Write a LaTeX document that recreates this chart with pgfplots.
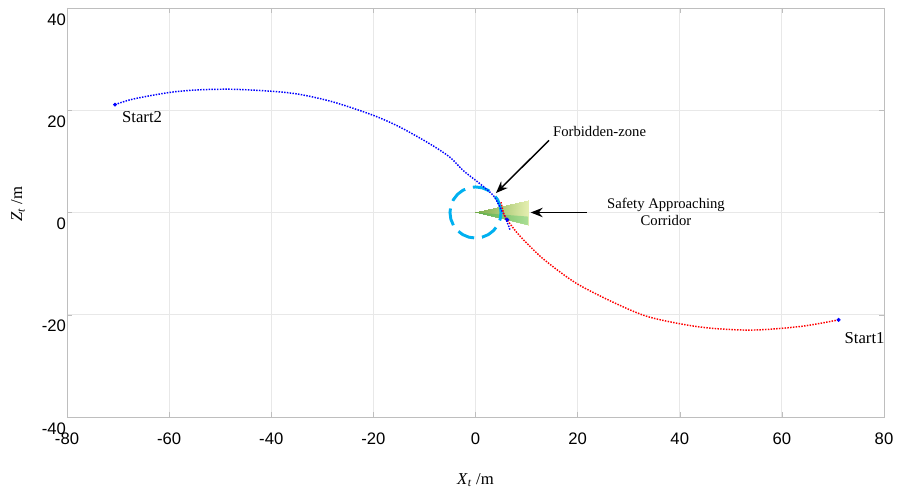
\documentclass[border=0pt]{standalone}
\usepackage{fontspec}
\setmainfont{Liberation Serif}
\newfontfamily\arial{Liberation Sans}
\usepackage{pgfplots}
\pgfplotsset{compat=1.18}
\usetikzlibrary{arrows.meta}

\definecolor{gridgray}{RGB}{232,232,232}
\definecolor{axgray}{RGB}{190,190,190}
\definecolor{zonecyan}{RGB}{0,176,240}

\begin{document}
\begin{tikzpicture}
\begin{axis}[name=ax,
  scale only axis, width=612.75pt, height=306.75pt,
  xmin=-80, xmax=80, ymin=-40, ymax=40,
  xtick={-80,-60,...,80}, ytick={-40,-20,...,40},
  grid=major, major grid style={gridgray, line width=0.6pt},
  axis line style={axgray, line width=0.7pt},
  tick align=inside, major tick length=4pt, tick style={axgray},
  /pgf/number format/assume math mode=true,
  ticklabel style={font=\arial\fontsize{12.5}{14}\selectfont},
  xticklabel style={yshift=-8.5pt},
  yticklabel style={yshift=-8.5pt, xshift=2.7pt},
  xlabel={\textit{X}\textsubscript{\textit{t}} /m},
  ylabel={\textit{Z}\textsubscript{\textit{t}} /m},
  label style={font=\fontsize{12.5}{14}\selectfont},
  xlabel style={at={(axis description cs:0.5,-0.154)}, anchor=center},
  ylabel style={at={(axis description cs:-0.06,0.52)}, anchor=center},
  colormap={cone}{rgb255(0)=(120,170,70); rgb255(1)=(228,238,175)},
  clip=false,
]
% safety approaching corridor (cone)
\addplot[patch, patch type=triangle, shader=interp, point meta=explicit]
  coordinates {(0,0) [0] (10.3,2.5) [1] (10.3,-2.5) [1]};
\addplot[draw=none, fill=teal!60!green, fill opacity=0.25]
  coordinates {(0,0) (10.3,-2.5) (10.3,-0.8) (0,0)};
% forbidden zone
\addplot[zonecyan, line width=2.2pt, dash pattern=on 13pt off 6pt] coordinates {
(5,0)(4.830,1.294)(4.330,2.5)(3.536,3.536)(2.5,4.330)(1.294,4.830)(0,5)
(-1.294,4.830)(-2.5,4.330)(-3.536,3.536)(-4.330,2.5)(-4.830,1.294)(-5,0)
(-4.830,-1.294)(-4.330,-2.5)(-3.536,-3.536)(-2.5,-4.330)(-1.294,-4.830)(0,-5)
(1.294,-4.830)(2.5,-4.330)(3.536,-3.536)(4.330,-2.5)(4.830,-1.294)(5,0)};
% trajectory from Start2
\addplot[blue, densely dotted, line width=1.1pt, smooth] coordinates {
(-70.6,21.1)(-67.0,22.2)(-59.8,23.5)(-54.0,24.0)(-47.4,24.1)(-39.8,23.7)
(-34.4,23.1)(-27.8,21.6)(-20.0,19.0)(-14.8,16.7)(-8.9,13.4)(-5.0,10.8)
(-2.4,8.2)(0.9,5.6)(3.5,3.3)(4.8,1.0)(5.8,-0.9)(6.8,-3.5)};
% trajectory from Start1
\addplot[red, densely dotted, line width=1.1pt, smooth] coordinates {
(71.1,-21.0)(63.6,-22.3)(53.8,-23.0)(44.0,-22.4)(34.2,-20.5)(27.7,-17.9)
(20.5,-14.3)(16.5,-11.6)(12.6,-8.5)(8.7,-4.6)(6.6,-2.0)(5.6,-0.4)(5.0,2.0)};
% start points
\addplot[blue, only marks, mark=*, mark size=1.3pt]
  coordinates {(-70.6,21.1)(71.1,-21.0)(6.2,-1.4)};
% annotations
\node[font=\fontsize{12.5}{14}\selectfont] at (axis cs:-65.3,18.6) {Start2};
\node[font=\fontsize{12.5}{14}\selectfont] at (axis cs:76.2,-24.6) {Start1};
\node[font=\fontsize{11}{13}\selectfont] at (axis cs:24.3,15.8) {Forbidden-zone};
\node[font=\fontsize{11}{13}\selectfont, align=center] at (axis cs:37.3,0.1)
  {Safety Approaching\\Corridor};
\draw[-{Stealth[length=9pt,width=7pt]}, line width=1.1pt] (axis cs:14.4,14.1) -- (axis cs:4.0,3.8);
\draw[-{Stealth[length=9pt,width=7pt]}, line width=1.1pt] (axis cs:21.8,0) -- (axis cs:10.8,0);
\end{axis}
\pgfresetboundingbox
\path ([shift={(-50.25pt,-57pt)}]ax.south west) rectangle ([shift={(10.5pt,6pt)}]ax.north east);
\end{tikzpicture}
\end{document}
